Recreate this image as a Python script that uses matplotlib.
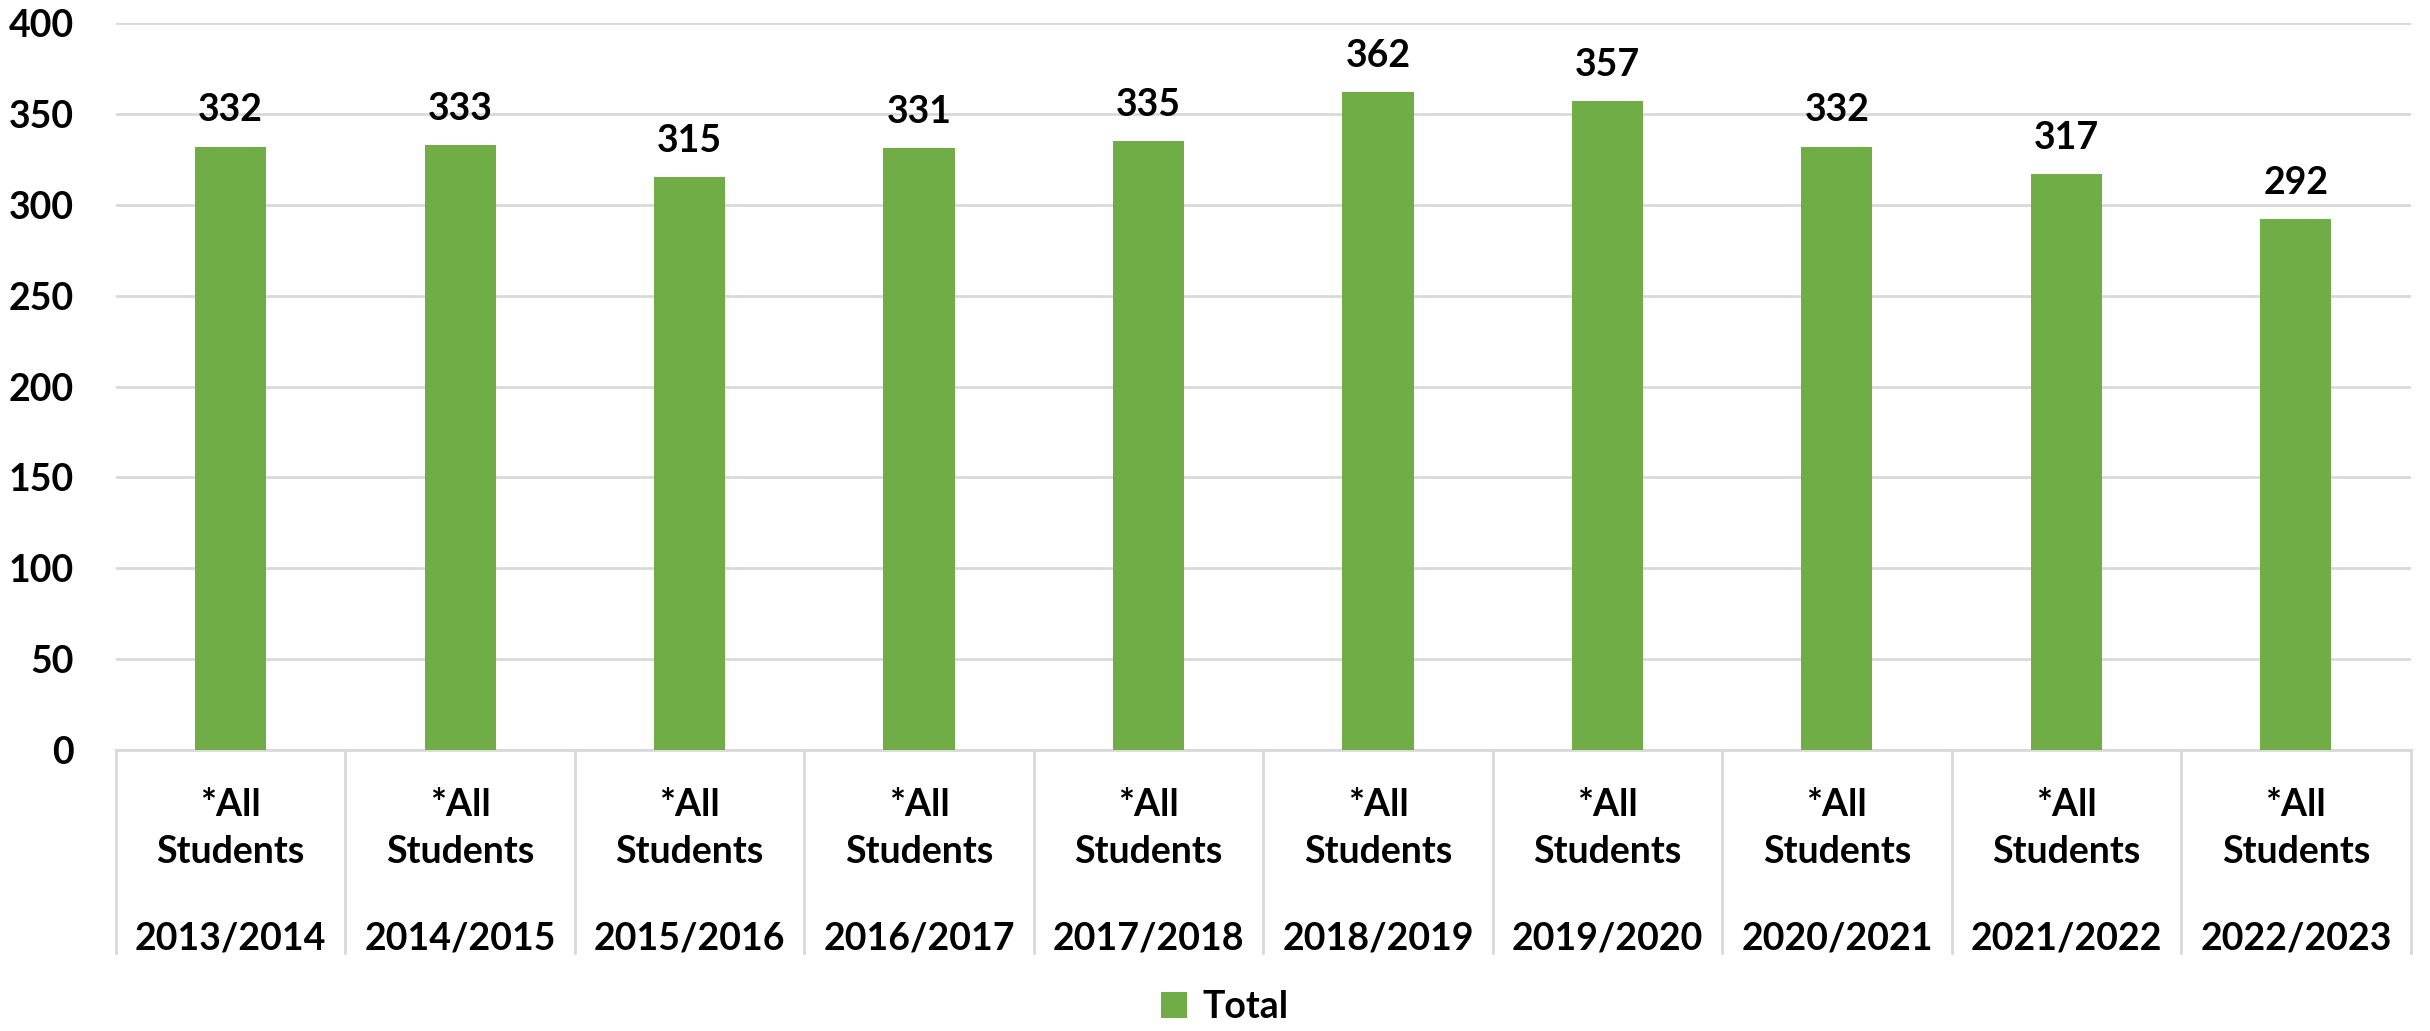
import numpy as np
import matplotlib.pyplot as plt
from matplotlib.patches import Patch

# Data
years = ["2013/2014", "2014/2015", "2015/2016", "2016/2017", "2017/2018",
         "2018/2019", "2019/2020", "2020/2021", "2021/2022", "2022/2023"]
group_label = "*All\nStudents"
totals = [332, 333, 315, 331, 335, 362, 357, 332, 317, 292]

GREEN = "#70AD47"
GRID = "#D9D9D9"
FS = 27

plt.rcParams['font.family'] = ['Lato', 'DejaVu Sans']
plt.rcParams['font.weight'] = 'bold'

fig = plt.figure(figsize=(24.3, 10.31), dpi=100)
ax = fig.add_axes([0.0477, 0.2725, 0.9443, 0.7052])

x = np.arange(len(years))
bars = ax.bar(x, totals, width=0.31, color=GREEN, zorder=3)

for xi, v in zip(x, totals):
    ax.annotate(str(v), (xi, v), xytext=(0, 26), textcoords='offset points',
                ha='center', va='center', fontsize=FS, fontweight='bold')

ax.set_ylim(0, 400)
ax.set_xlim(-0.5, len(years) - 0.5)
ax.set_yticks(np.arange(0, 401, 50))
ax.tick_params(axis='y', length=0, pad=30, labelsize=FS)
ax.tick_params(axis='x', length=0, labelbottom=False)
for lbl in ax.get_yticklabels():
    lbl.set_fontweight('bold')
ax.yaxis.grid(True, color=GRID, linewidth=2, zorder=0)

for s in ['top', 'right', 'left']:
    ax.spines[s].set_visible(False)
ax.spines['bottom'].set_color(GRID)
ax.spines['bottom'].set_linewidth(2)

# multi-level category axis
tr = ax.get_xaxis_transform()
for xi, yr in zip(x, years):
    ax.text(xi, -0.108, group_label, transform=tr, ha='center', va='center',
            fontsize=FS, fontweight='bold', linespacing=1.45)
    ax.text(xi, -0.259, yr, transform=tr, ha='center', va='center',
            fontsize=FS, fontweight='bold')
for b in np.arange(-0.5, len(years), 1.0):
    ax.plot([b, b], [0, -0.279], transform=tr, color=GRID, linewidth=2,
            clip_on=False)

handles = [Patch(facecolor=GREEN, label='Total')]
leg = fig.legend(handles=handles, loc='center', bbox_to_anchor=(0.504, 0.023),
                 frameon=False, fontsize=FS, handlelength=0.7, handleheight=0.7,
                 handletextpad=0.4)
for t in leg.get_texts():
    t.set_fontweight('bold')

fig.savefig('out.png', dpi=100)
